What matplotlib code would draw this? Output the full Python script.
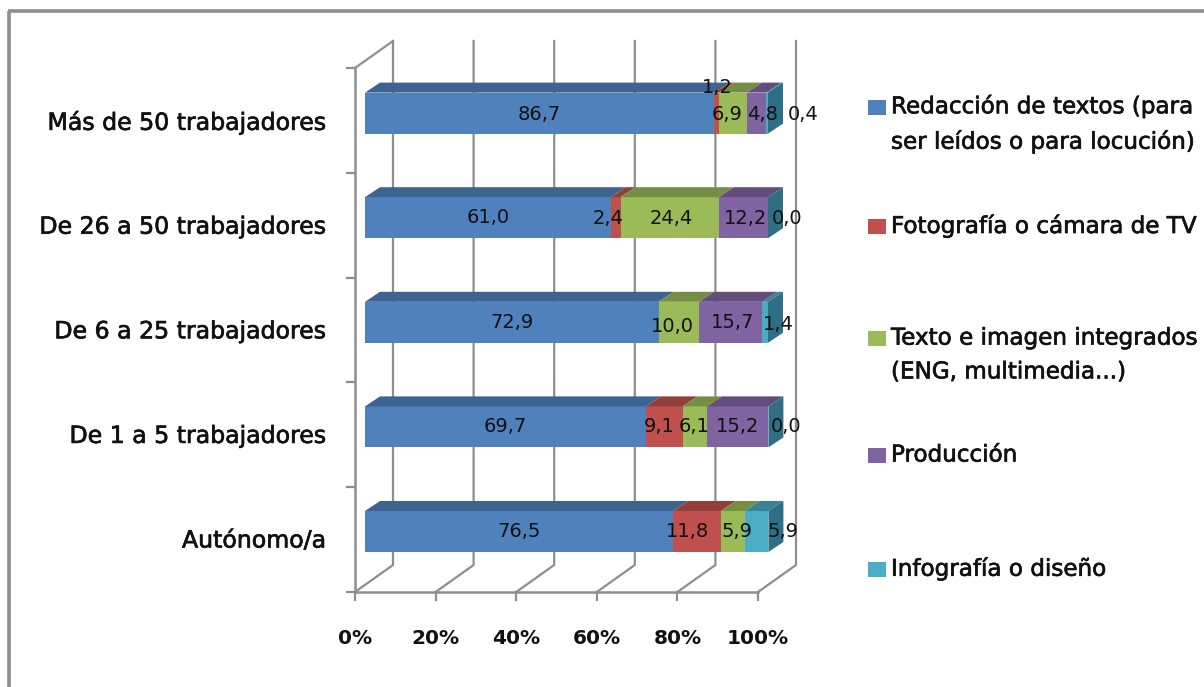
"""Stacked horizontal bars with a fake 3D look: bars get a top and a side face,
the plot gets a floor and a back wall with gridlines.
"""
import matplotlib
matplotlib.use("Agg")
import matplotlib.pyplot as plt  # noqa: E402
import matplotlib.patheffects as pe  # noqa: E402
from matplotlib.patches import Polygon, Rectangle  # noqa: E402

categories = ["Autónomo/a", "De 1 a 5 trabajadores", "De 6 a 25 trabajadores",
              "De 26 a 50 trabajadores", "Más de 50 trabajadores"]
series_names = ["Redacción de textos (para\nser leídos o para locución)",
                "Fotografía o cámara de TV",
                "Texto e imagen integrados\n(ENG, multimedia...)",
                "Producción",
                "Infografía o diseño"]
redaccion = [76.5, 69.7, 72.9, 61.0, 86.7]
fotografia = [11.8, 9.1, 0.0, 2.4, 1.2]
texto_imagen = [5.9, 6.1, 10.0, 24.4, 6.9]
produccion = [0.0, 15.2, 15.7, 12.2, 4.8]
infografia = [5.9, 0.0, 1.4, 0.0, 0.4]
series = [redaccion, fotografia, texto_imagen, produccion, infografia]
ticks = [0, 20, 40, 60, 80, 100]

front = ["#4f81bd", "#c0504d", "#9bbb59", "#8064a2", "#4bacc6"]
top = ["#3d6391", "#933e3b", "#768e44", "#624d7c", "#398398"]
SIDE = "#2f6f86"
GRID = "#8e8e8e"
INK = "#111111"

W, H = 1204, 687
PX_X = 4.03     # pixels per percent
PX_Y = 104.6    # pixels per category

# label shifts in pixels, (row, series) -> (right, down)
nudges = {(4, 1): (0, -26), (4, 2): (-6, 1), (4, 3): (6, 1), (4, 4): (12, 1), (4, 0): (0, 1),
          (3, 1): (-8, 1), (3, 2): (2, 1), (3, 3): (2, 1), (3, 4): (-4, 1),
          (2, 2): (-7, 4), (2, 3): (2, 0), (2, 4): (-10, 2),
          (1, 1): (-5, 0), (1, 2): (-1, 0), (1, 4): (-6, 0),
          (0, 1): (-10, 0), (0, 2): (4, 0), (0, 4): (3, 0)}


def px_x(p):
    return (p - 365) / PX_X


def px_y(p):
    return (531.5 - p) / PX_Y


fig = plt.figure(figsize=(W / 100, H / 100), dpi=100)
ax = fig.add_axes([0, 0, 1, 1])
ax.set_xlim(px_x(0), px_x(W))
ax.set_ylim(px_y(H), px_y(0))
ax.axis("off")

# offsets of the wall and the bars, in data units
wall_dx, wall_dy = 38 / PX_X, 27 / PX_Y
plane_x = -10 / PX_X
floor_y = px_y(592)
top_y = px_y(68)
bar_h = 41 / PX_Y
depth_dx, depth_dy = 15 / PX_X, 10 / PX_Y
heavy = [pe.withStroke(linewidth=0.5, foreground=INK)]

# outer frame
ax.plot([px_x(9.5), px_x(9.5)], [px_y(H), px_y(10.5)], color=GRID, lw=2.6, solid_capstyle="butt")
ax.plot([px_x(8), px_x(W)], [px_y(10.5), px_y(10.5)], color=GRID, lw=2.6, solid_capstyle="butt")

# floor, wall gridlines and tick marks
for t in ticks:
    x = plane_x + t
    ax.plot([x, x + wall_dx, x + wall_dx], [floor_y, floor_y + wall_dy, top_y + wall_dy],
            color=GRID, lw=1.6, zorder=1)
    ax.plot([x, x], [floor_y, px_y(600)], color=GRID, lw=1.6, zorder=1)
    ax.text(x, px_y(638), f"{t}%", ha="center", va="center", fontsize=14.5,
            fontweight="bold", color=INK)
ax.plot([plane_x, plane_x + 100], [floor_y, floor_y], color=GRID, lw=1.8, zorder=1)
ax.plot([plane_x, plane_x], [floor_y, top_y], color=GRID, lw=1.8, zorder=1)
ax.plot([plane_x, plane_x + wall_dx], [top_y, top_y + wall_dy], color=GRID, lw=1.6, zorder=1)

# category ticks on the vertical axis
for i in range(len(categories) + 1):
    y = floor_y + i * (top_y - floor_y) / len(categories)
    ax.plot([plane_x - 8 / PX_X, plane_x], [y, y], color=GRID, lw=1.6, zorder=1)

# stacked bars, front faces through barh and depth faces as polygons
for i, name in enumerate(categories):
    ax.text(px_x(326), i - 9 / PX_Y, name, ha="right", va="center", fontsize=17,
            color=INK, path_effects=heavy)
    left = 0.0
    for j, vals in enumerate(series):
        v = vals[i]
        ax.barh(i, v, left=left, height=bar_h, color=front[j], zorder=3)
        y1 = i + bar_h / 2
        ax.add_patch(Polygon([(left, y1), (left + v, y1),
                              (left + v + depth_dx, y1 + depth_dy),
                              (left + depth_dx, y1 + depth_dy)],
                             closed=True, facecolor=top[j], edgecolor="none", zorder=3))
        left += v
    y0, y1 = i - bar_h / 2, i + bar_h / 2
    ax.add_patch(Polygon([(left, y0), (left + depth_dx, y0 + depth_dy),
                          (left + depth_dx, y1 + depth_dy), (left, y1)],
                         closed=True, facecolor=SIDE, edgecolor="none", zorder=3))
    # value labels; the last series sits past the end of the bar
    left = 0.0
    for j, vals in enumerate(series):
        v = vals[i]
        if v > 0 or j in (0, 2, 4):
            dx, dy = nudges.get((i, j), (0, 0))
            if j == 4:
                dx += 23.5
            ax.text(left + v / 2 + dx / PX_X, i - dy / PX_Y, f"{v:.1f}".replace(".", ","),
                    ha="center", va="center", fontsize=14, color=INK, zorder=5)
        left += v

# legend
legend_y = [124, 226, 355, 455, 569]
for name, color, yp in zip(series_names, front, legend_y):
    ys = px_y(yp)
    first_line_y = ys + (17 / PX_Y if "\n" in name else 0)
    ax.add_patch(Rectangle((px_x(868), first_line_y - 8 / PX_Y), 18 / PX_X, 15 / PX_Y,
                           facecolor=color, edgecolor="none"))
    ax.text(px_x(891), ys, name, ha="left", va="center", fontsize=16.6, linespacing=1.6,
            color=INK, path_effects=heavy)

fig.savefig("out.png", dpi=100)
plt.close(fig)
